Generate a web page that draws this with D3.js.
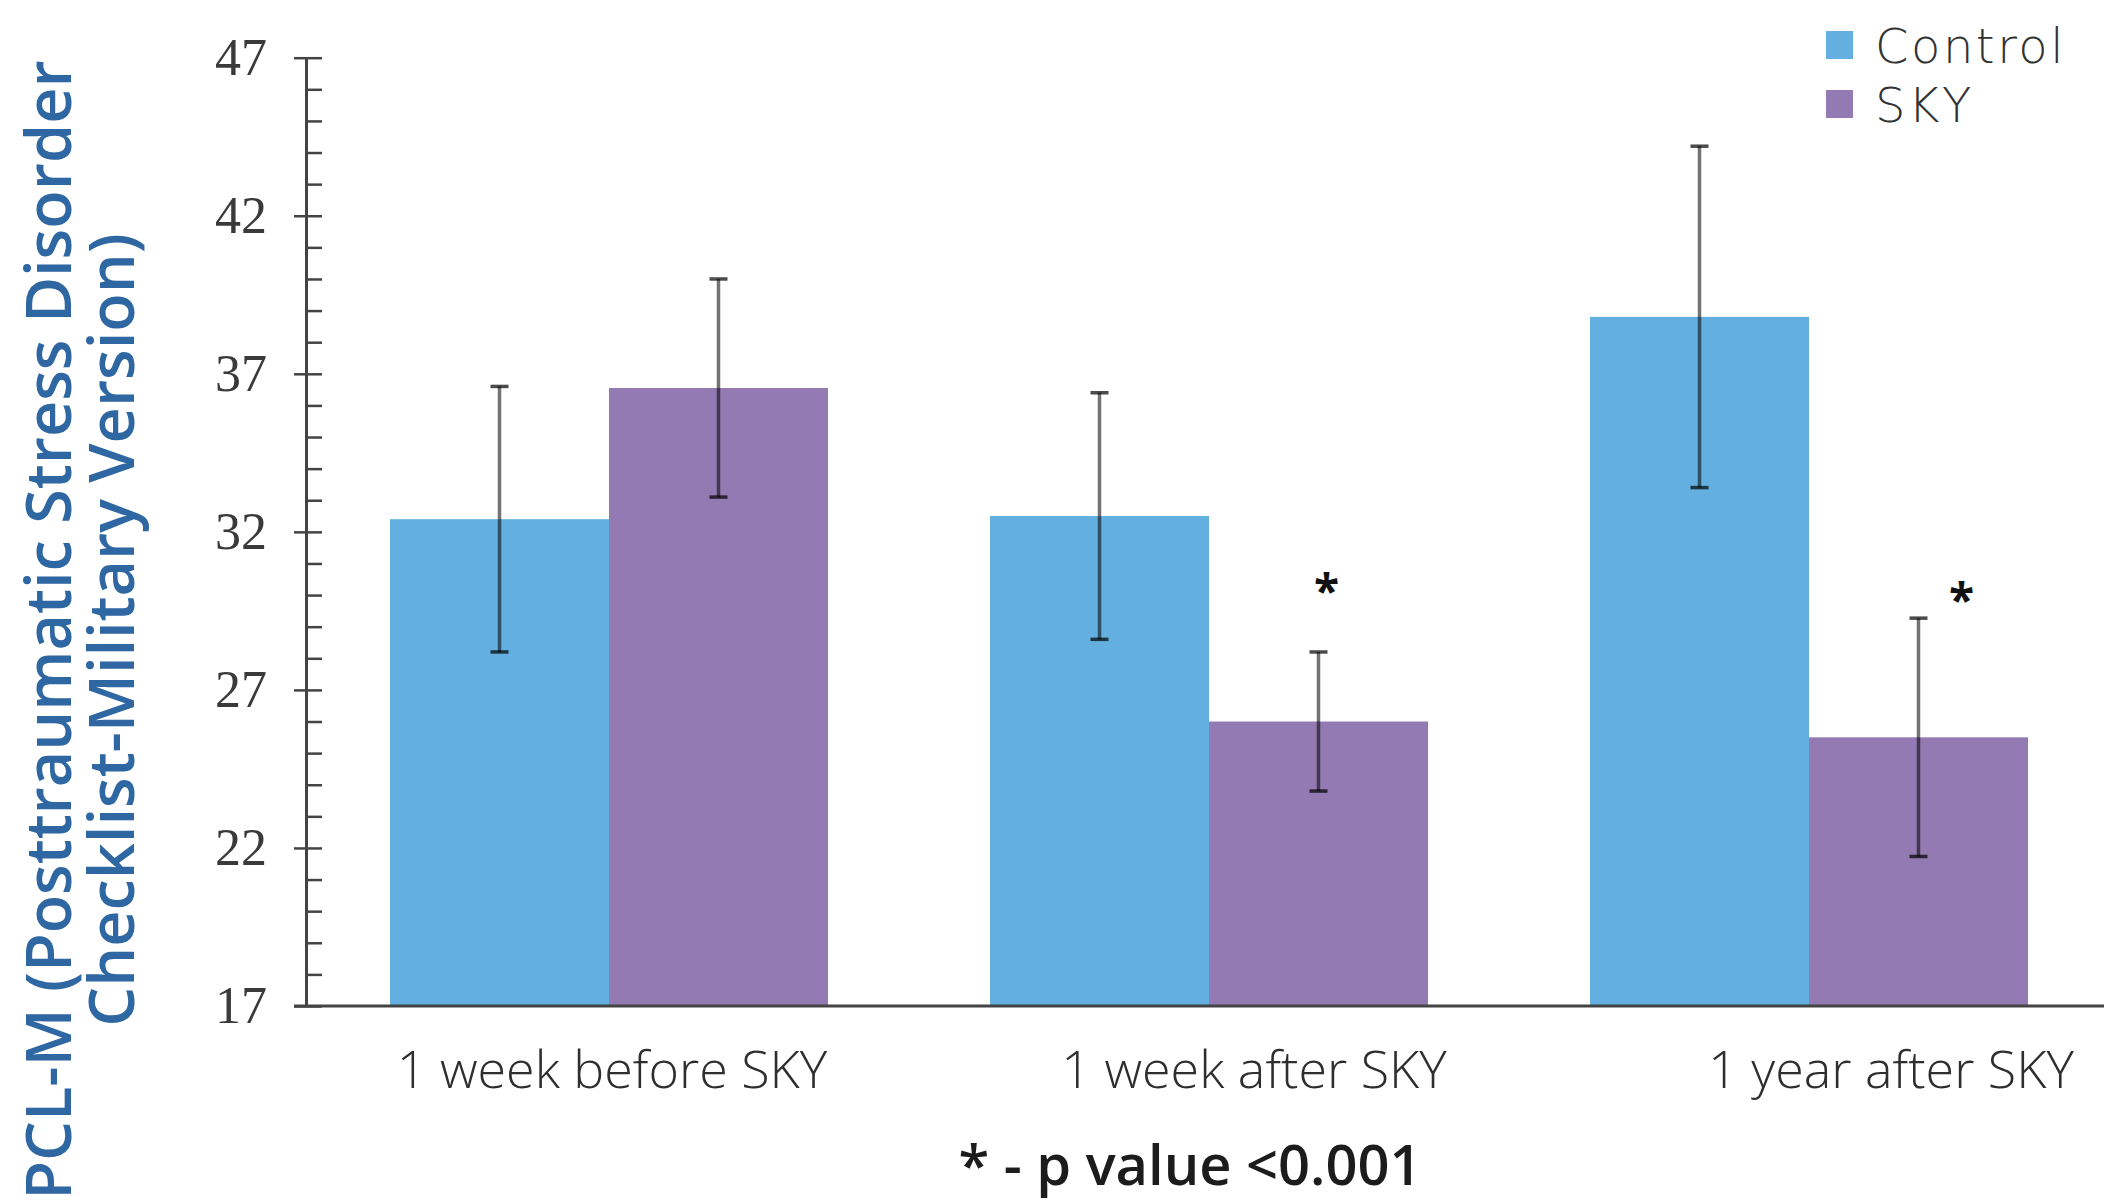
<!DOCTYPE html>
<html>
<head>
<meta charset="utf-8">
<script src="https://cdn.jsdelivr.net/npm/d3@7"></script>
<style>
  html, body { margin: 0; padding: 0; background: #fff; }
  svg { display: block; }
</style>
</head>
<body>
<svg id="chart" width="2104" height="1202"></svg>
<script>
// PCL-M scores by time point, Control vs SKY groups (mean with error bars)
const categories = ["1 week before SKY", "1 week after SKY", "1 year after SKY"];
const groups = ["Control", "SKY"];
const controlMeans = [32.4, 32.5, 38.8];
const controlErrors = [4.2, 3.9, 5.4];
const skyMeans = [36.55, 26.0, 25.5];
const skyErrors = [3.45, 2.2, 3.77];
const significant = [false, true, true];
const yTicks = [17, 22, 27, 32, 37, 42, 47];
const footnote = "* - p value <0.001";
const yTitleLines = ["PCL-M (Posttraumatic Stress Disorder", "Checklist-Military Version)"];

const colors = { Control: "#63afdf", SKY: "#937ab2" };

const svg = d3.select("#chart");
const W = 2104, H = 1202;
svg.append("rect").attr("width", W).attr("height", H).attr("fill", "#fff");

const axisX = 306;
const y = d3.scaleLinear().domain([17, 47]).range([1006, 57.7]);
const x0 = d3.scaleBand().domain(categories).range([axisX, 2112])
  .paddingInner(0.27).paddingOuter(0.14);
const x1 = d3.scaleBand().domain(groups).range([0, x0.bandwidth()]).padding(0);

const rows = categories.map((c, i) => ({
  category: c,
  sig: significant[i],
  bars: [
    { group: "Control", mean: controlMeans[i], err: controlErrors[i] },
    { group: "SKY", mean: skyMeans[i], err: skyErrors[i] }
  ]
}));

// bars
const g = svg.append("g");
const cat = g.selectAll("g.cat").data(rows).join("g")
  .attr("class", "cat")
  .attr("transform", d => `translate(${x0(d.category)},0)`);

cat.selectAll("rect").data(d => d.bars).join("rect")
  .attr("x", d => x1(d.group))
  .attr("y", d => y(d.mean))
  .attr("width", x1.bandwidth())
  .attr("height", d => y(17) - y(d.mean))
  .attr("fill", d => colors[d.group]);

// error bars
const eb = cat.selectAll("g.err").data(d => d.bars).join("g").attr("class", "err");
const cx = d => x1(d.group) + x1.bandwidth() / 2;
eb.append("line")
  .attr("x1", cx).attr("x2", cx)
  .attr("y1", d => y(d.mean + d.err)).attr("y2", d => y(d.mean - d.err))
  .attr("stroke", "#000").attr("stroke-opacity", 0.55).attr("stroke-width", 3.5);
[1, -1].forEach(s => {
  eb.append("line")
    .attr("x1", d => cx(d) - 9).attr("x2", d => cx(d) + 9)
    .attr("y1", d => y(d.mean + s * d.err)).attr("y2", d => y(d.mean + s * d.err))
    .attr("stroke", "#000").attr("stroke-opacity", 0.7).attr("stroke-width", 3.5);
});

// significance stars over the SKY bars
const starNudge = [[0, 0], [8, -5], [43, 4]];
rows.forEach((r, i) => {
  if (!r.sig) return;
  const sx = x0(r.category) + x1("SKY") + x1.bandwidth() / 2 + starNudge[i][0];
  const sy = y(30.2) + starNudge[i][1];
  svg.append("text")
    .attr("x", sx).attr("y", sy + 24)
    .attr("text-anchor", "middle")
    .attr("font-family", "'Open Sans', sans-serif")
    .attr("font-weight", 700)
    .attr("font-size", 46)
    .attr("fill", "#111")
    .text("*");
});

// minor ticks (every unit, right side of the axis)
const minor = svg.append("g").attr("transform", `translate(${axisX},0)`)
  .call(d3.axisLeft(y).tickValues(d3.range(17, 48)).tickSize(-16).tickFormat(""));
minor.select(".domain").remove();
minor.selectAll("line").attr("stroke", "#444").attr("stroke-width", 2.5);

// major ticks with labels
const major = svg.append("g").attr("transform", `translate(${axisX},0)`)
  .call(d3.axisLeft(y).tickValues(yTicks).tickSize(12).tickSizeOuter(0).tickPadding(27));
major.select(".domain").attr("stroke", "#444").attr("stroke-width", 3);
major.selectAll("line").attr("stroke", "#444").attr("stroke-width", 2.5);
major.selectAll("text")
  .attr("font-family", "'Liberation Serif', 'Times New Roman', serif")
  .attr("font-size", 52)
  .attr("fill", "#3a3a3a");

// baseline
svg.append("line")
  .attr("x1", axisX - 12).attr("x2", W)
  .attr("y1", y(17)).attr("y2", y(17))
  .attr("stroke", "#444").attr("stroke-width", 3);

// category labels
const labelNudge = [3, 45, 82];
svg.append("g").selectAll("text").data(categories).join("text")
  .attr("x", (d, i) => x0(d) + x0.bandwidth() / 2 + labelNudge[i])
  .attr("y", 1088)
  .attr("text-anchor", "middle")
  .attr("font-family", "'Open Sans', sans-serif")
  .attr("font-weight", 300)
  .attr("font-size", 52)
  .attr("fill", "#2e2e2e")
  .text(d => d);

// legend
const legend = svg.append("g").attr("transform", "translate(1826,31)");
groups.forEach((grp, i) => {
  const row = legend.append("g").attr("transform", `translate(0,${i * 59})`);
  row.append("rect").attr("width", 27).attr("height", 28).attr("fill", colors[grp]);
  row.append("text")
    .attr("x", 49).attr("y", 32)
    .attr("font-family", "'DejaVu Sans', sans-serif")
    .attr("font-weight", 300)
    .attr("font-size", 48)
    .attr("letter-spacing", 2.5)
    .attr("fill", "#333")
    .text(grp);
});

// y axis title
const yt = svg.append("text")
  .attr("transform", "rotate(-90)")
  .attr("text-anchor", "middle")
  .attr("font-family", "'Open Sans', sans-serif")
  .attr("font-weight", 600)
  .attr("font-size", 63)
  .attr("fill", "#2f67a3");
yTitleLines.forEach((line, i) => {
  yt.append("tspan").attr("x", -630).attr("y", 71 + i * 63).text(line);
});

// footnote
svg.append("text")
  .attr("x", 1190).attr("y", 1185)
  .attr("text-anchor", "middle")
  .attr("font-family", "'Open Sans', sans-serif")
  .attr("font-weight", 600)
  .attr("font-size", 56)
  .attr("fill", "#1c1c1c")
  .text(footnote);
</script>
</body>
</html>
